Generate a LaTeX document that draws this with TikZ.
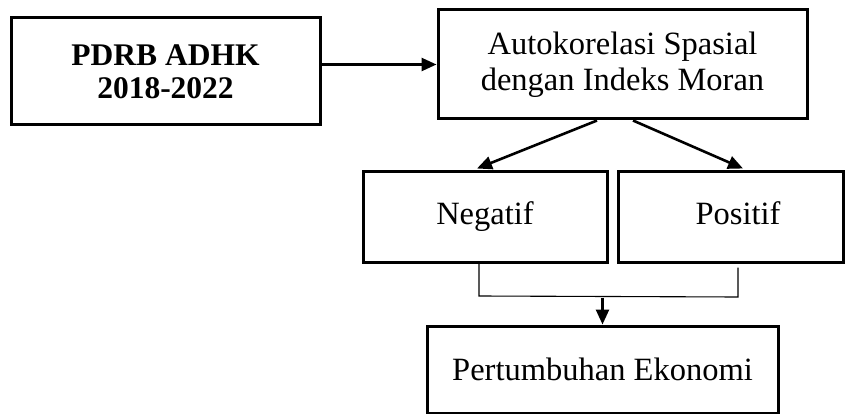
\documentclass[tikz,border=0pt]{standalone}
\usepackage{fontspec}
\setmainfont{Liberation Serif}
\usetikzlibrary{arrows.meta,calc}
\begin{document}
\begin{tikzpicture}[x=1pt,y=-1pt,
  box/.style={draw,line width=3pt,rectangle,align=center,inner sep=0pt,
    font=\fontsize{32.5}{36}\selectfont},
  arr/.style={line width=2.6pt,-{Triangle[length=15pt,width=13pt]}},
  thin/.style={line width=1.1pt}]
\useasboundingbox (0,0) rectangle (845,414);
\node[box,minimum width=309pt,minimum height=107pt,font=\fontsize{31.5}{33}\selectfont\bfseries] (pdrb) at (165.5,71.5) {PDRB ADHK\\2018-2022};
\node[box,minimum width=369pt,minimum height=109pt] (auto) at (622.5,64.5) {Autokorelasi Spasial\\dengan Indeks Moran};
\node[box,minimum width=244pt,minimum height=90pt] (neg) at (485,217) {Negatif};
\node[box,minimum width=225pt,minimum height=90pt] (pos) at (730.5,217) {\hspace*{15pt}Positif\vphantom{g}};
\node[box,minimum width=351pt,minimum height=87pt] (pert) at (602.5,369.5) {Pertumbuhan Ekonomi};
\draw[arr] (pdrb.east |- auto.west) -- (auto.west);
\draw[arr] ($(auto.south)+(-25.5,0)$) -- ($(neg.north)+(-8,-2)$);
\draw[arr] ($(auto.south)+(10.5,0)$) -- ($(pos.north)+(12.5,-2)$);
\coordinate (ja) at ($(neg.south)+(-6,0)$);
\coordinate (jb) at ($(pos.south)+(7.5,4)$);
\draw[thin] (ja) -- (ja |- 0,296) -- (jb |- 0,297) -- (jb);
\coordinate (jc) at ($(pert.north)+(0,-27)$);
\draw[arr] (jc) -- (pert.north);
\end{tikzpicture}
\end{document}
